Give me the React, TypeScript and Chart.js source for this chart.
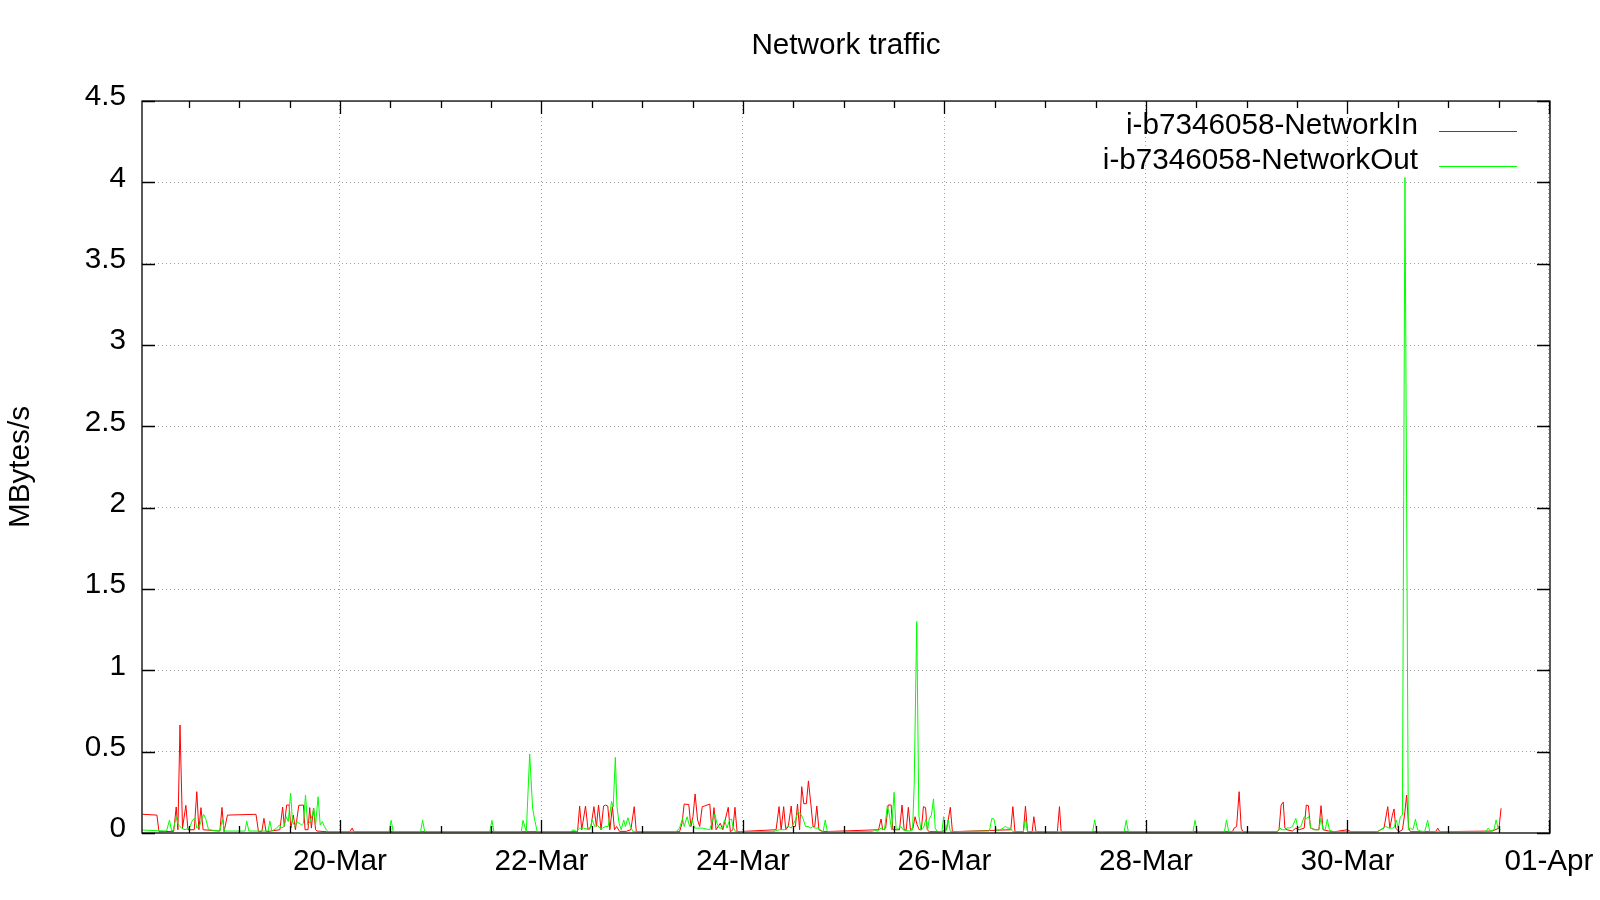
import React, { useEffect, useRef } from 'react';
import { Chart, registerables } from 'chart.js';

Chart.register(...registerables);

const TITLE = 'Network traffic';
const Y_TITLE = 'MBytes/s';
const SERIES_NAMES = ['i-b7346058-NetworkIn', 'i-b7346058-NetworkOut'];
const SERIES_COLORS = ['#ff0000', '#00ff00'];

// x values are hours since 18-Mar 00:00
const X_MIN = 0.85;
const X_MAX = 336.25;
const TICK_HOURS = [12, 24, 36, 48, 60, 72, 84, 96, 108, 120, 132, 144, 156, 168, 180, 192, 204, 216, 228, 240, 252, 264, 276, 288, 300, 312, 324, 336];
const DATE_TICK_HOURS = [48, 96, 144, 192, 240, 288, 336];
const DATE_TICK_LABELS = ['20-Mar', '22-Mar', '24-Mar', '26-Mar', '28-Mar', '30-Mar', '01-Apr'];
const Y_TICKS = [0, 0.5, 1, 1.5, 2, 2.5, 3, 3.5, 4, 4.5];

const IN_HOURS = [
  1.0, 4.4, 4.9, 8.4, 9.0, 9.4, 9.9, 10.5, 11.3, 11.8, 13.3, 13.9, 14.4, 14.9, 15.4, 19.4, 19.9, 20.4, 21.2, 28.0,
  28.6, 29.4, 29.9, 30.4, 33.7, 34.35, 34.75, 35.3, 35.9, 36.3, 36.9, 37.4, 38.2, 39.3, 39.7, 40.4, 40.8, 41.2, 41.7, 42.2,
  42.6, 44.8, 50.4, 50.9, 51.3, 104.6, 105.1, 105.6, 106.5, 107.1, 107.8, 108.5, 109.1, 109.6, 110.2, 110.8, 111.3, 111.8, 112.3, 112.9,
  113.4, 113.9, 114.6, 116.2, 117.3, 118.1, 118.6, 128.9, 129.5, 130.0, 131.1, 131.6, 132.1, 132.6, 133.2, 133.7, 134.3, 134.9, 136.1, 136.6,
  137.1, 137.6, 138.1, 138.6, 139.2, 140.5, 141.0, 141.6, 142.1, 142.6, 151.9, 152.6, 153.1, 153.7, 154.2, 154.8, 155.5, 155.9, 156.5, 157.0,
  157.5, 158.0, 158.5, 159.1, 159.6, 160.2, 160.7, 161.1, 161.6, 162.1, 163.0, 176.3, 176.9, 177.3, 178.0, 178.6, 179.3, 179.7, 181.3, 181.9,
  182.4, 182.9, 183.4, 183.9, 184.5, 185.0, 185.5, 186.0, 186.5, 187.0, 187.5, 187.9, 188.4, 191.3, 192.5, 193.4, 193.9, 207.8, 208.3, 208.8,
  210.8, 211.3, 211.8, 212.9, 213.3, 213.8, 218.9, 219.4, 219.8, 260.6, 261.0, 261.6, 262.2, 262.7, 263.1, 271.3, 271.7, 272.2, 272.7, 273.1,
  273.6, 274.9, 275.7, 276.5, 277.7, 278.2, 278.7, 279.2, 280.4, 281.2, 281.7, 282.2, 283.6, 285.0, 288.0, 288.8, 295.1, 295.9, 296.7, 297.6,
  298.1, 298.7, 299.1, 299.5, 300.3, 301.1, 301.6, 302.1, 302.6, 303.0, 309.0, 309.5, 310.0, 322.5, 324.1, 324.6
];
const IN_VALUES = [
  0.115, 0.11, 0.008, 0.01, 0.16, 0.02, 0.664, 0.03, 0.17, 0.02, 0.02, 0.254, 0.02, 0.156, 0.02, 0.012, 0.157, 0.008, 0.11, 0.115,
  0.008, 0.01, 0.09, 0.008, 0.02, 0.16, 0.04, 0.172, 0.172, 0.03, 0.11, 0.02, 0.17, 0.172, 0.02, 0.02, 0.156, 0.03, 0.152, 0.02,
  0.012, 0.008, 0.008, 0.03, 0.008, 0.008, 0.166, 0.02, 0.166, 0.02, 0.04, 0.162, 0.04, 0.172, 0.02, 0.166, 0.172, 0.166, 0.02, 0.162,
  0.02, 0.04, 0.01, 0.01, 0.02, 0.162, 0.008, 0.008, 0.06, 0.178, 0.175, 0.04, 0.1, 0.24, 0.08, 0.04, 0.162, 0.166, 0.178, 0.02,
  0.156, 0.02, 0.04, 0.06, 0.02, 0.158, 0.008, 0.02, 0.158, 0.008, 0.02, 0.162, 0.02, 0.162, 0.02, 0.04, 0.166, 0.04, 0.04, 0.178,
  0.02, 0.285, 0.18, 0.18, 0.32, 0.172, 0.04, 0.04, 0.166, 0.02, 0.008, 0.02, 0.086, 0.02, 0.03, 0.172, 0.172, 0.02, 0.02, 0.172,
  0.02, 0.02, 0.158, 0.02, 0.03, 0.1, 0.05, 0.02, 0.02, 0.162, 0.156, 0.02, 0.008, 0.008, 0.02, 0.158, 0.008, 0.02, 0.162, 0.008,
  0.008, 0.166, 0.008, 0.008, 0.1, 0.008, 0.008, 0.162, 0.008, 0.008, 0.03, 0.04, 0.254, 0.03, 0.008, 0.008, 0.02, 0.172, 0.19, 0.03,
  0.02, 0.012, 0.03, 0.02, 0.03, 0.172, 0.168, 0.03, 0.02, 0.02, 0.168, 0.02, 0.012, 0.008, 0.02, 0.008, 0.008, 0.02, 0.03, 0.162,
  0.03, 0.11, 0.148, 0.03, 0.008, 0.02, 0.11, 0.233, 0.03, 0.008, 0.008, 0.03, 0.008, 0.012, 0.03, 0.152
];

const OUT_HOURS = [
  1.0, 6.7, 7.4, 7.9, 8.3, 9.0, 9.5, 10.3, 11.1, 12.1, 12.9, 13.5, 13.9, 14.5, 15.5, 16.0, 16.7, 19.4, 20.0, 20.5,
  25.4, 25.8, 26.3, 30.9, 31.3, 31.8, 32.9, 33.6, 34.1, 34.7, 35.2, 35.7, 36.25, 36.7, 37.3, 37.7, 38.3, 38.9, 39.3, 39.8,
  40.3, 40.9, 41.4, 41.8, 42.2, 42.8, 43.3, 43.8, 44.3, 44.8, 45.2, 59.7, 60.2, 60.7, 67.2, 67.7, 68.2, 83.7, 84.2, 84.7,
  91.2, 91.6, 92.4, 93.2, 93.9, 94.4, 95.0, 103.0, 103.5, 104.3, 105.1, 106.0, 107.5, 108.1, 108.7, 109.3, 109.9, 110.5, 111.3, 111.9,
  112.7, 113.1, 113.6, 114.0, 114.5, 115.0, 115.6, 116.0, 116.6, 117.2, 117.8, 128.1, 128.9, 129.6, 130.0, 130.7, 131.3, 131.9, 132.5, 134.3,
  136.1, 136.8, 137.3, 137.8, 138.4, 139.1, 139.6, 140.2, 140.8, 141.3, 141.6, 142.2, 151.1, 152.7, 153.9, 154.7, 155.5, 156.5, 157.1, 157.7,
  158.3, 158.9, 159.5, 160.2, 160.6, 161.2, 161.8, 162.4, 163.1, 163.6, 164.1, 174.9, 175.3, 176.1, 176.9, 177.7, 178.4, 178.9, 179.4, 180.0,
  180.5, 181.1, 181.6, 182.2, 183.6, 184.4, 184.8, 185.4, 185.9, 186.4, 187.0, 187.6, 188.0, 188.4, 188.9, 189.4, 189.8, 190.3, 191.4, 191.8,
  192.3, 192.9, 193.4, 202.7, 203.3, 203.8, 204.3, 205.1, 206.0, 206.5, 207.1, 207.6, 208.3, 210.8, 211.3, 211.8, 227.3, 227.8, 228.3, 234.8,
  235.3, 235.8, 251.2, 251.7, 252.2, 258.7, 259.2, 259.7, 271.3, 271.9, 272.5, 273.1, 273.7, 274.2, 274.9, 275.7, 276.2, 276.9, 277.7, 278.2,
  278.8, 279.3, 280.0, 281.2, 281.7, 282.2, 282.7, 283.2, 283.7, 284.4, 295.1, 295.9, 296.5, 297.1, 297.9, 298.7, 299.1, 299.6, 300.1, 300.6,
  301.1, 301.7, 302.5, 303.0, 303.6, 304.2, 304.7, 305.4, 306.4, 307.1, 307.6, 320.9, 321.5, 322.1, 322.9, 323.4, 323.9, 324.5
];
const OUT_VALUES = [
  0.018, 0.012, 0.08, 0.012, 0.018, 0.1, 0.05, 0.03, 0.02, 0.03, 0.08, 0.09, 0.03, 0.04, 0.115, 0.09, 0.02, 0.012, 0.084, 0.012,
  0.012, 0.074, 0.012, 0.012, 0.074, 0.012, 0.03, 0.05, 0.03, 0.04, 0.1, 0.07, 0.244, 0.07, 0.04, 0.07, 0.06, 0.05, 0.06, 0.233,
  0.05, 0.07, 0.11, 0.15, 0.05, 0.223, 0.05, 0.07, 0.04, 0.018, 0.008, 0.008, 0.078, 0.008, 0.008, 0.078, 0.008, 0.008, 0.078, 0.008,
  0.008, 0.078, 0.008, 0.486, 0.152, 0.08, 0.008, 0.008, 0.02, 0.01, 0.03, 0.03, 0.02, 0.08, 0.04, 0.05, 0.03, 0.03, 0.04, 0.04,
  0.193, 0.16, 0.465, 0.16, 0.06, 0.02, 0.08, 0.04, 0.094, 0.04, 0.008, 0.008, 0.03, 0.09, 0.04, 0.1, 0.04, 0.08, 0.03, 0.03,
  0.02, 0.08, 0.117, 0.06, 0.03, 0.03, 0.08, 0.03, 0.08, 0.085, 0.04, 0.008, 0.008, 0.02, 0.02, 0.045, 0.03, 0.08, 0.128, 0.12,
  0.09, 0.04, 0.04, 0.03, 0.04, 0.03, 0.03, 0.02, 0.008, 0.08, 0.008, 0.008, 0.018, 0.012, 0.03, 0.018, 0.168, 0.11, 0.018, 0.25,
  0.018, 0.03, 0.04, 0.018, 0.012, 0.018, 0.3, 1.3, 0.11, 0.018, 0.03, 0.085, 0.018, 0.09, 0.11, 0.21, 0.03, 0.008, 0.008, 0.1,
  0.01, 0.08, 0.008, 0.012, 0.09, 0.085, 0.018, 0.018, 0.03, 0.04, 0.03, 0.03, 0.008, 0.008, 0.084, 0.008, 0.008, 0.08, 0.008, 0.008,
  0.078, 0.008, 0.008, 0.078, 0.008, 0.008, 0.08, 0.008, 0.008, 0.03, 0.02, 0.02, 0.033, 0.03, 0.04, 0.09, 0.03, 0.04, 0.1, 0.09,
  0.1, 0.03, 0.02, 0.02, 0.09, 0.02, 0.02, 0.084, 0.02, 0.008, 0.008, 0.02, 0.03, 0.04, 0.03, 0.03, 0.033, 0.08, 0.03, 0.1,
  0.11, 4.03, 0.02, 0.03, 0.02, 0.085, 0.02, 0.012, 0.008, 0.078, 0.008, 0.008, 0.03, 0.012, 0.02, 0.08, 0.03, 0.02
];

const FONT = "'Liberation Sans', Arial, Helvetica, sans-serif";
const FS = 29.7;

const gnuplotFrame = {
  id: 'gnuplotFrame',
  afterDraw(chart: any) {
    const { ctx, chartArea } = chart;
    const { left, right, top, bottom } = chartArea;
    const xs = chart.scales.x;
    const ys = chart.scales.y;
    ctx.save();
    ctx.strokeStyle = '#000';
    ctx.lineWidth = 1.3;
    ctx.setLineDash([]);
    ctx.strokeRect(left, top, right - left, bottom - top);
    ctx.beginPath();
    xs.ticks.forEach((t: any) => {
      const px = Math.round(xs.getPixelForValue(t.value)) + 0.5;
      const major = DATE_TICK_HOURS.includes(t.value);
      const len = major ? 13 : 7;
      ctx.moveTo(px, bottom);
      ctx.lineTo(px, bottom - len);
      ctx.moveTo(px, top);
      ctx.lineTo(px, top + len);
    });
    ys.ticks.forEach((t: any) => {
      const py = Math.round(ys.getPixelForValue(t.value)) + 0.5;
      ctx.moveTo(left, py);
      ctx.lineTo(left + 13, py);
      ctx.moveTo(right, py);
      ctx.lineTo(right - 13, py);
    });
    ctx.stroke();

    // key (legend) in gnuplot style: right-aligned label, sample line to the right
    ctx.font = `${FS}px ${FONT}`;
    ctx.textAlign = 'right';
    ctx.textBaseline = 'alphabetic';
    chart.data.datasets.forEach((ds: any, i: number) => {
      const baseY = 134 + i * 34.7;
      ctx.fillStyle = '#000';
      ctx.fillText(ds.label, 1418, baseY);
      ctx.strokeStyle = ds.borderColor;
      ctx.lineWidth = 1;
      ctx.beginPath();
      const ly = Math.round(baseY - 3) + 0.5;
      ctx.moveTo(1439, ly);
      ctx.lineTo(1517, ly);
      ctx.stroke();
    });
    ctx.restore();
  },
};

export default function App() {
  const canvasRef = useRef<HTMLCanvasElement | null>(null);

  useEffect(() => {
    const canvas = canvasRef.current;
    if (!canvas) return;
    const chart = new Chart(canvas, {
      type: 'line',
      data: {
        datasets: [
          {
            label: SERIES_NAMES[0],
            data: IN_HOURS.map((h, i) => ({ x: h, y: IN_VALUES[i] })),
            borderColor: SERIES_COLORS[0],
            backgroundColor: SERIES_COLORS[0],
            borderWidth: 1,
            pointRadius: 0,
            tension: 0,
            order: 1,
          },
          {
            label: SERIES_NAMES[1],
            data: OUT_HOURS.map((h, i) => ({ x: h, y: OUT_VALUES[i] })),
            borderColor: SERIES_COLORS[1],
            backgroundColor: SERIES_COLORS[1],
            borderWidth: 1,
            pointRadius: 0,
            tension: 0,
            order: 0,
          },
        ],
      },
      options: {
        animation: false,
        responsive: false,
        devicePixelRatio: 1,
        layout: { padding: { top: 0, left: 0, right: 50, bottom: 0 } },
        plugins: {
          legend: { display: false },
          tooltip: { enabled: false },
          title: {
            display: true,
            text: TITLE,
            fullSize: false,
            color: '#000',
            font: { family: FONT, size: FS, weight: 'normal', lineHeight: 1.2 },
            padding: { top: 28, bottom: 37.4 },
          },
        },
        scales: {
          x: {
            type: 'linear',
            min: X_MIN,
            max: X_MAX,
            afterBuildTicks: (scale: any) => {
              scale.ticks = TICK_HOURS.map((v) => ({ value: v }));
            },
            afterFit: (scale: any) => {
              scale.height = 67;
            },
            ticks: {
              autoSkip: false,
              maxRotation: 0,
              minRotation: 0,
              padding: 1,
              color: '#000',
              font: { family: FONT, size: FS, lineHeight: 1.85 },
              callback: (value: any) => {
                const i = DATE_TICK_HOURS.indexOf(Number(value));
                return i >= 0 ? DATE_TICK_LABELS[i] : '';
              },
            },
            grid: {
              drawTicks: false,
              lineWidth: 1,
              color: (c: any) =>
                c.tick && DATE_TICK_HOURS.includes(c.tick.value) ? '#a0a0a0' : 'rgba(0,0,0,0)',
            },
            border: { display: false, dash: [1, 3] },
          },
          y: {
            type: 'linear',
            min: 0,
            max: 4.5,
            afterBuildTicks: (scale: any) => {
              scale.ticks = Y_TICKS.map((v) => ({ value: v }));
            },
            afterFit: (scale: any) => {
              scale.width = 142;
            },
            title: {
              display: true,
              text: Y_TITLE,
              color: '#000',
              font: { family: FONT, size: FS, lineHeight: 1.2 },
              padding: { top: 3, bottom: 0 },
            },
            ticks: {
              padding: 16,
              labelOffset: -4,
              color: '#000',
              font: { family: FONT, size: FS },
              callback: (value: any) => String(value),
            },
            grid: {
              drawTicks: false,
              lineWidth: 1,
              color: (c: any) =>
                c.tick && c.tick.value > 0 && c.tick.value < 4.5 ? '#a0a0a0' : 'rgba(0,0,0,0)',
            },
            border: { display: false, dash: [1, 3] },
          },
        },
      },
      plugins: [gnuplotFrame],
    });
    return () => chart.destroy();
  }, []);

  return (
    <div style={{ position: 'fixed', left: 0, top: 0, width: 1600, height: 900, background: '#fff' }}>
      <canvas ref={canvasRef} width={1600} height={900} style={{ width: 1600, height: 900, display: 'block' }} />
    </div>
  );
}
